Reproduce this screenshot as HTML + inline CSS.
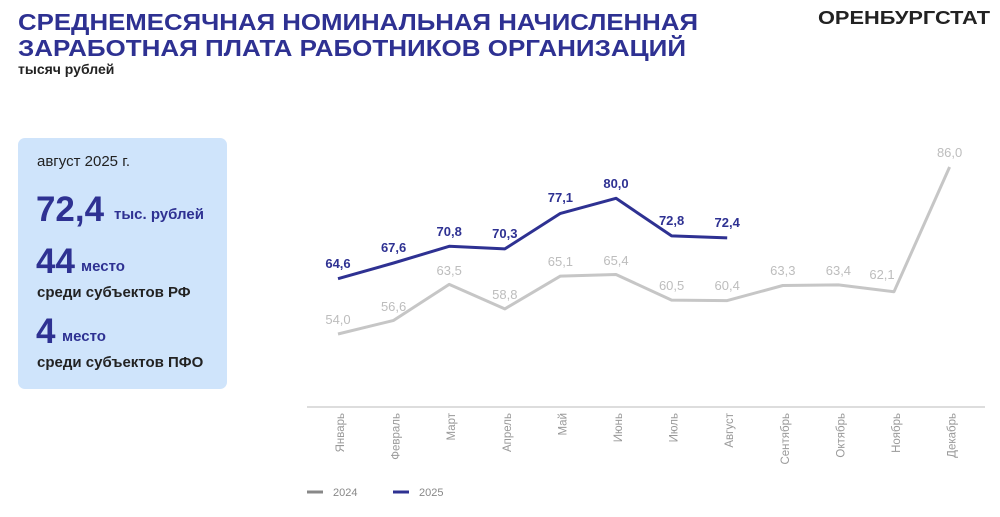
<!DOCTYPE html>
<html><head><meta charset="utf-8"><style>
body{margin:0;background:#fff;}
svg{display:block;font-family:"Liberation Sans",Arial,sans-serif;}
</style></head><body>
<svg width="1000" height="517" viewBox="0 0 1000 517">
<text x="18" y="30" font-size="23" font-weight="bold" fill="#2e3192" textLength="680" lengthAdjust="spacingAndGlyphs">СРЕДНЕМЕСЯЧНАЯ НОМИНАЛЬНАЯ НАЧИСЛЕННАЯ</text>
<text x="18" y="56" font-size="23" font-weight="bold" fill="#2e3192" textLength="668" lengthAdjust="spacingAndGlyphs">ЗАРАБОТНАЯ ПЛАТА РАБОТНИКОВ ОРГАНИЗАЦИЙ</text>
<text x="18" y="74" font-size="14" font-weight="bold" fill="#222">тысяч рублей</text>
<text x="818" y="24" font-size="18" font-weight="bold" fill="#222" textLength="172" lengthAdjust="spacingAndGlyphs">ОРЕНБУРГСТАТ</text>

<rect x="18" y="138" width="209" height="251" rx="7" fill="#cfe4fb"/>
<text x="37" y="166" font-size="15" fill="#222">август 2025 г.</text>
<text x="36" y="221" font-size="35" font-weight="bold" fill="#2e3192" textLength="68" lengthAdjust="spacingAndGlyphs">72,4</text>
<text x="114" y="219" font-size="15" font-weight="bold" fill="#2e3192">тыс. рублей</text>
<text x="36" y="273" font-size="35" font-weight="bold" fill="#2e3192">44</text>
<text x="81" y="271" font-size="15" font-weight="bold" fill="#2e3192">место</text>
<text x="37" y="297" font-size="15" font-weight="bold" fill="#222">среди субъектов РФ</text>
<text x="36" y="343" font-size="35" font-weight="bold" fill="#2e3192">4</text>
<text x="62" y="341" font-size="15" font-weight="bold" fill="#2e3192">место</text>
<text x="37" y="367" font-size="15" font-weight="bold" fill="#222">среди субъектов ПФО</text>

<line x1="307" y1="407" x2="985" y2="407" stroke="#bbb" stroke-width="1"/>

<polyline fill="none" stroke="#c6c6c6" stroke-width="3" stroke-linejoin="round" points="338,334 393.6,320.4 449.2,284.4 504.8,308.9 560.4,276.1 616,274.5 671.6,300.1 727.2,300.6 782.8,285.5 838.4,284.9 894,291.7 949.6,167"/>
<polyline fill="none" stroke="#2e3192" stroke-width="3" stroke-linejoin="round" points="338,278.7 393.6,263 449.2,246.3 504.8,248.9 560.4,213.4 616,198.3 671.6,235.9 727.2,237.9"/>

<g font-size="13" fill="#bdbdbd" text-anchor="middle">
<text x="338" y="324">54,0</text><text x="393.6" y="311">56,6</text><text x="449.2" y="275">63,5</text><text x="504.8" y="299">58,8</text><text x="560.4" y="266">65,1</text><text x="616" y="265">65,4</text><text x="671.6" y="290">60,5</text><text x="727.2" y="290">60,4</text><text x="782.8" y="275">63,3</text><text x="838.4" y="275">63,4</text><text x="882" y="279">62,1</text><text x="949.6" y="157">86,0</text>
</g>
<g font-size="13" font-weight="bold" fill="#2e3192" text-anchor="middle">
<text x="338" y="268">64,6</text><text x="393.6" y="252">67,6</text><text x="449.2" y="236">70,8</text><text x="504.8" y="238">70,3</text><text x="560.4" y="202">77,1</text><text x="616" y="188">80,0</text><text x="671.6" y="225">72,8</text><text x="727.2" y="227">72,4</text>
</g>

<g font-size="11.5" fill="#999" text-anchor="end">
<text transform="translate(344,413) rotate(-90)">Январь</text>
<text transform="translate(399.6,413) rotate(-90)">Февраль</text>
<text transform="translate(455.2,413) rotate(-90)">Март</text>
<text transform="translate(510.8,413) rotate(-90)">Апрель</text>
<text transform="translate(566.4,413) rotate(-90)">Май</text>
<text transform="translate(622,413) rotate(-90)">Июнь</text>
<text transform="translate(677.6,413) rotate(-90)">Июль</text>
<text transform="translate(733.2,413) rotate(-90)">Август</text>
<text transform="translate(788.8,413) rotate(-90)">Сентябрь</text>
<text transform="translate(844.4,413) rotate(-90)">Октябрь</text>
<text transform="translate(900,413) rotate(-90)">Ноябрь</text>
<text transform="translate(955.6,413) rotate(-90)">Декабрь</text>
</g>

<line x1="307" y1="492" x2="323" y2="492" stroke="#888" stroke-width="3"/>
<text x="333" y="496" font-size="11" fill="#888">2024</text>
<line x1="393" y1="492" x2="409" y2="492" stroke="#2e3192" stroke-width="3"/>
<text x="419" y="496" font-size="11" fill="#888">2025</text>
</svg>
</body></html>
